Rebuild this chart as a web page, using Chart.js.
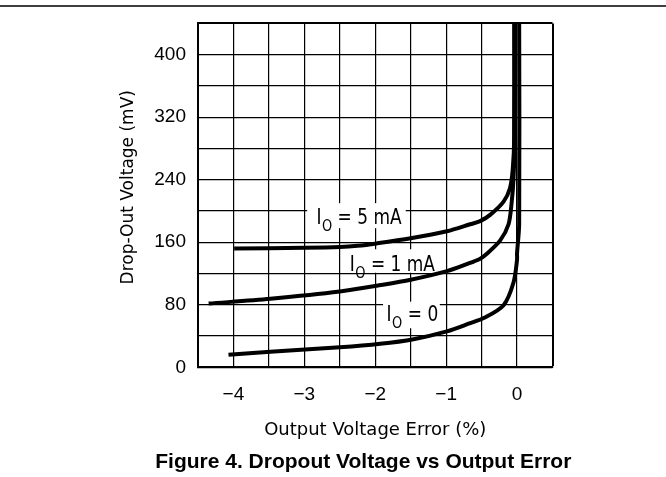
<!DOCTYPE html>
<html><head><meta charset="utf-8">
<script src="https://cdn.jsdelivr.net/npm/chart.js@4.4.1/dist/chart.umd.min.js"></script>
<style>html,body{margin:0;padding:0;background:#fff;}canvas{display:block;}</style>
</head><body>
<canvas id="c" width="666" height="477"></canvas>
<script>
// ---- data ----
const xTickValues = [-4, -3, -2, -1, 0];
const xTickLabels = ['−4', '−3', '−2', '−1', '0'];
const yTickValues = [0, 80, 160, 240, 320, 400];
const yTickLabels = ['0', '80', '160', '240', '320', '400'];

const seriesSuffix = [' = 5 mA', ' = 1 mA', ' = 0'];

const err5mA  = [-3.99, -3.0, -2.50, -2.25, -1.98, -1.5, -0.99, -0.66, -0.52, -0.38, -0.19, -0.10, -0.06, -0.04, -0.04];
const drop5mA = [152, 153, 154, 155.5, 158.5, 165, 174, 183, 187, 195, 212, 229, 254, 295, 440];

const err1mA  = [-4.35, -3.48, -2.50, -1.98, -1.5, -0.99, -0.71, -0.52, -0.43, -0.24, -0.12, -0.075, -0.05, -0.04, -0.035];
const drop1mA = [81.5, 87.7, 96.9, 104.4, 112, 123, 132, 139, 145, 162, 183, 212, 241, 274, 440];

const err0mA  = [-4.07, -3.48, -2.50, -1.93, -1.46, -0.99, -0.66, -0.47, -0.19, -0.05, 0.0, 0.0, 0.03, 0.03];
const drop0mA = [16, 20, 25.5, 30, 36, 46, 56.5, 63, 79.5, 108.5, 137.5, 146, 183, 440];

const toPts = (xs, ys) => xs.map((v, i) => ({x: v, y: ys[i]}));

const lineStyle = {showLine: true, pointRadius: 0, borderColor: '#000', borderWidth: 4, tension: 0.3, fill: false};

// ---- decorations: in-plot labels, top rule, caption ----
const decor = {
  id: 'decor',
  beforeDatasetsDraw(chart) {
    const {ctx, scales: {x, y}} = chart;
    const anchors = [
      {bx0: -2.96, bx1: -1.57, by0: 178, by1: 210, tx: -2.83, ty: 183},
      {bx0: -2.40, bx1: -1.13, by0: 121, by1: 151, tx: -2.36, ty: 123},
      {bx0: -1.89, bx1: -1.09, by0: 50,  by1: 84,  tx: -1.84, ty: 58.8}
    ];
    ctx.save();
    anchors.forEach((a, i) => {
      const X0 = x.getPixelForValue(a.bx0), X1 = x.getPixelForValue(a.bx1);
      const Y0 = y.getPixelForValue(a.by1), Y1 = y.getPixelForValue(a.by0);
      ctx.fillStyle = '#fff';
      ctx.fillRect(X0, Y0, X1 - X0, Y1 - Y0);
      const tx = x.getPixelForValue(a.tx), ty = y.getPixelForValue(a.ty);
      ctx.fillStyle = '#000';
      ctx.textBaseline = 'alphabetic';
      ctx.textAlign = 'left';
      ctx.save();
      ctx.translate(tx, ty); ctx.scale(1, 1.2);
      ctx.font = '17px "DejaVu Sans"';
      ctx.fillText('I', 0, 0);
      const wI = ctx.measureText('I').width;
      ctx.restore();
      ctx.save();
      ctx.translate(tx + wI + 0.5, ty + 6.5); ctx.scale(1, 1.2);
      ctx.font = '13px "DejaVu Sans"';
      ctx.fillText('O', 0, 0);
      const wO = ctx.measureText('O').width;
      ctx.restore();
      ctx.save();
      ctx.translate(tx + wI + 0.5 + wO, ty); ctx.scale(1, 1.2);
      ctx.font = '17px "DejaVu Sans"';
      ctx.fillText(seriesSuffix[i], 0, 0);
      ctx.restore();
    });
    ctx.restore();
  },
  afterDraw(chart) {
    const {ctx} = chart;
    ctx.save();
    ctx.strokeStyle = '#000';
    ctx.lineWidth = 1.5;
    ctx.beginPath(); ctx.moveTo(0, 6); ctx.lineTo(666, 6); ctx.stroke();
    ctx.fillStyle = '#000';
    ctx.font = 'bold 21px "Liberation Sans", Arial, sans-serif';
    ctx.textAlign = 'center';
    ctx.textBaseline = 'alphabetic';
    ctx.fillText('Figure 4. Dropout Voltage vs Output Error', 363.3, 468.3);
    ctx.restore();
  }
};

const near = (v, arr) => arr.findIndex(t => Math.abs(t - v) < 1e-6);

new Chart(document.getElementById('c'), {
  type: 'scatter',
  data: {
    datasets: [
      {label: 'IO = 5 mA', data: toPts(err5mA, drop5mA), ...lineStyle},
      {label: 'IO = 1 mA', data: toPts(err1mA, drop1mA), ...lineStyle},
      {label: 'IO = 0',    data: toPts(err0mA, drop0mA), ...lineStyle}
    ]
  },
  options: {
    responsive: false,
    animation: false,
    devicePixelRatio: 1,
    layout: {padding: {left: 0, right: 113.5, top: 13.3, bottom: 0}},
    plugins: {legend: {display: false}, tooltip: {enabled: false}, title: {display: false}},
    scales: {
      x: {
        type: 'linear', min: -4.5, max: 0.5,
        afterFit(s) { s.height = 109.7; },
        grid: {color: '#000', lineWidth: c => (Math.abs(c.tick.value - 0.5) < 1e-6 ? 2 : 1.2), drawTicks: false},
        border: {color: '#000', width: 2},
        ticks: {
          stepSize: 0.5, autoSkip: false, maxRotation: 0, padding: 16,
          color: '#000', font: {family: '"Liberation Sans", Arial, sans-serif', size: 19},
          callback: v => { const i = near(v, xTickValues); return i >= 0 ? xTickLabels[i] : ''; }
        },
        title: {display: true, text: 'Output Voltage Error (%)', color: '#000',
                font: {family: '"DejaVu Sans"', size: 18}, padding: {top: 0, bottom: 36.2}}
      },
      y: {
        type: 'linear', min: 0, max: 440,
        afterFit(s) { s.width = 198; },
        grid: {color: '#000', lineWidth: c => (Math.abs(c.tick.value - 440) < 1e-6 ? 2 : 1.2), drawTicks: false},
        border: {color: '#000', width: 2},
        ticks: {
          stepSize: 40, autoSkip: false, padding: 12,
          color: '#000', font: {family: '"Liberation Sans", Arial, sans-serif', size: 19},
          callback: v => { const i = near(v, yTickValues); return i >= 0 ? yTickLabels[i] : ''; }
        },
        title: {display: true, text: '   Drop-Out Voltage (mV)', color: '#000',
                font: {family: '"DejaVu Sans"', size: 17}, padding: {top: 118, bottom: 0}}
      }
    }
  },
  plugins: [decor]
});
</script>
</body></html>
